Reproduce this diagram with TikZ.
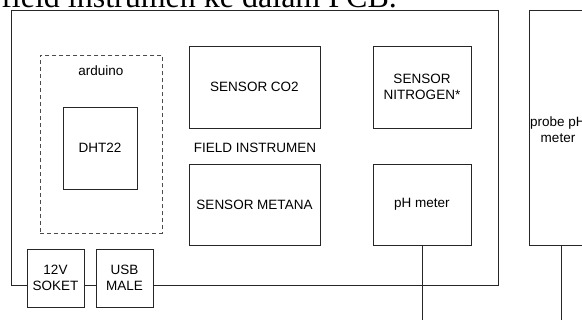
\documentclass[tikz,border=0pt]{standalone}
\usepackage{fontspec}
\setmainfont{Liberation Sans}
\newfontfamily\serifhead{Liberation Serif}
\begin{document}
\begin{tikzpicture}[x=1pt,y=-1pt,
  blk/.style={draw=black!85, line width=0.8pt, fill=white, inner sep=0pt, align=center,
    font=\fontsize{13.5}{16}\selectfont},
  lbl/.style={inner sep=0pt, align=center, font=\fontsize{13.5}{16}\selectfont},
  wire/.style={draw=black!85, line width=0.8pt}]
\useasboundingbox (0,0) rectangle (582,322);
\clip (0,0) rectangle (582,322);
\fill[white] (0,0) rectangle (582,322);
% clipped heading line
\node[anchor=base east, inner sep=0pt, font=\serifhead\fontsize{32}{36}\selectfont] (head) at (397,7) {field instrumen ke dalam PCB.};
% main enclosure
\node[blk, minimum width=487pt, minimum height=275pt, anchor=north west] (main) at (11,10) {};
% probe box (partly outside picture)
\node[blk, minimum width=80pt, minimum height=235pt, anchor=north west] (probe) at (529,10) {};
\node[lbl] (probetxt) at (558,129.5) {probe pH\\meter};
% arduino dashed region
\node[draw=black!70, dashed, dash pattern=on 4pt off 3pt, line width=0.8pt, minimum width=122pt, minimum height=178pt, anchor=north west, inner sep=0pt] (ard) at (40,55) {};
\node[lbl] (ardlbl) at (101,71) {arduino};
\node[blk, minimum width=74pt, minimum height=82pt] (dht) at (100,148) {DHT22};
% sensors
\node[blk, minimum width=131pt, minimum height=82pt] (co2) at (254.5,87) {SENSOR CO2};
\node[blk, minimum width=131pt, minimum height=81pt] (metana) at (254.5,204.5) {SENSOR METANA};
\node[lbl] (field) at (255,148) {FIELD INSTRUMEN};
\node[blk, minimum width=98pt, minimum height=82pt] (nitro) at (422,87) {SENSOR\\NITROGEN*};
\node[blk, minimum width=98pt, minimum height=81pt] (ph) at (422,204.5) {pH meter};
% power connectors
\node[blk, minimum width=57pt, minimum height=58pt] (soket) at (55.5,278) {12V\\SOKET};
\node[blk, minimum width=57pt, minimum height=58pt] (usb) at (124.5,278) {USB\\MALE};
% cables
\coordinate (phend) at (422,320);
\coordinate (probeend) at (561,320);
\draw[wire] (ph.south) -- (phend);
\draw[wire] (probe.south west) ++(32,0) coordinate (pb) -- (probeend);
\end{tikzpicture}
\end{document}
